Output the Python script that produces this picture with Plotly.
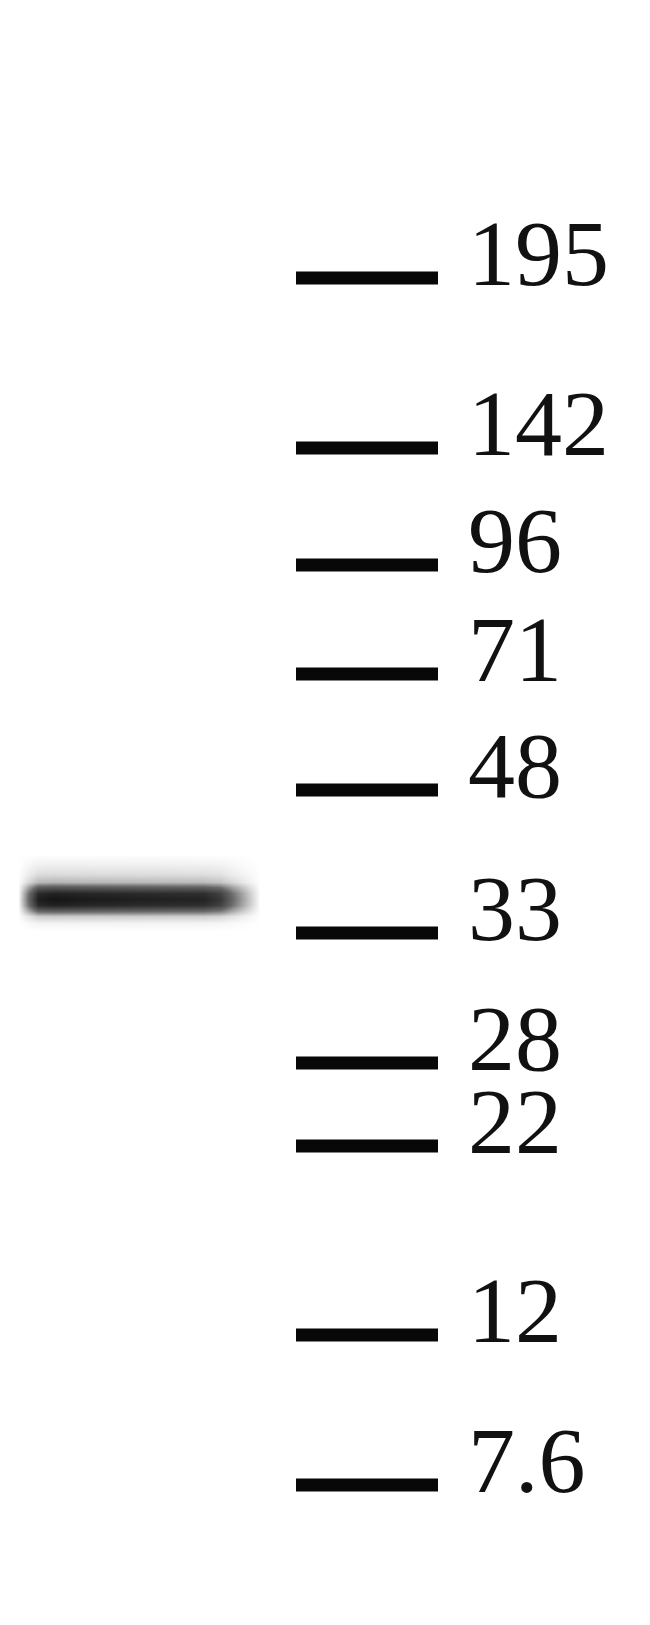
import plotly.graph_objects as go

# molecular weight ladder (kDa) and where each marker ran on the membrane
marker_labels = ["195", "142", "96", "71", "48", "33", "28", "22", "12", "7.6"]
marker_migration = [270, 440, 557, 666, 782, 925, 1055, 1138, 1327, 1477]

# single detected band in the sample lane (~35 kDa)
band_migration = 891
band_x = [10, 20, 30, 45, 80, 120, 160, 195, 212, 225, 238, 252]
band_x_strength = [0, 0.5, 0.95, 1.0, 0.97, 0.95, 0.93, 0.92, 0.8, 0.5, 0.25, 0]
band_y_offset = [-45, -35, -25, -17, -12, -6, 0, 6, 12, 17, 24, 32]
band_y_strength = [0, 0.05, 0.12, 0.25, 0.6, 0.92, 1.0, 0.92, 0.55, 0.18, 0.04, 0]

LADDER_X0, LADDER_X1 = 288, 430
LABEL_X = 458

band_z = [[sy * sx for sx in band_x_strength] for sy in band_y_strength]

fig = go.Figure()

fig.add_trace(go.Heatmap(
    x=band_x,
    y=[band_migration + d for d in band_y_offset],
    z=band_z,
    zmin=0, zmax=1,
    zsmooth="best",
    colorscale=[[0, "#ffffff"], [0.5, "#6a6a6a"], [1, "#151515"]],
    showscale=False,
    hoverinfo="skip",
))

# ladder ticks
xs, ys = [], []
for m in marker_migration:
    xs += [LADDER_X0, LADDER_X1, None]
    ys += [m, m, None]
fig.add_trace(go.Scatter(
    x=xs, y=ys, mode="lines",
    line=dict(color="#080808", width=13),
    hoverinfo="skip", showlegend=False,
))

for lab, m in zip(marker_labels, marker_migration):
    fig.add_annotation(
        x=LABEL_X, y=m - 25, text=lab, showarrow=False,
        xanchor="left", yanchor="middle",
        font=dict(family="Liberation Serif", size=94, color="#111111"),
    )

fig.update_layout(
    width=650, height=1625,
    margin=dict(l=0, r=0, t=0, b=0),
    paper_bgcolor="#ffffff", plot_bgcolor="#ffffff",
    xaxis=dict(range=[0, 650], visible=False, fixedrange=True),
    yaxis=dict(range=[1625, 0], visible=False, fixedrange=True),
)

fig.write_html("out.html")
